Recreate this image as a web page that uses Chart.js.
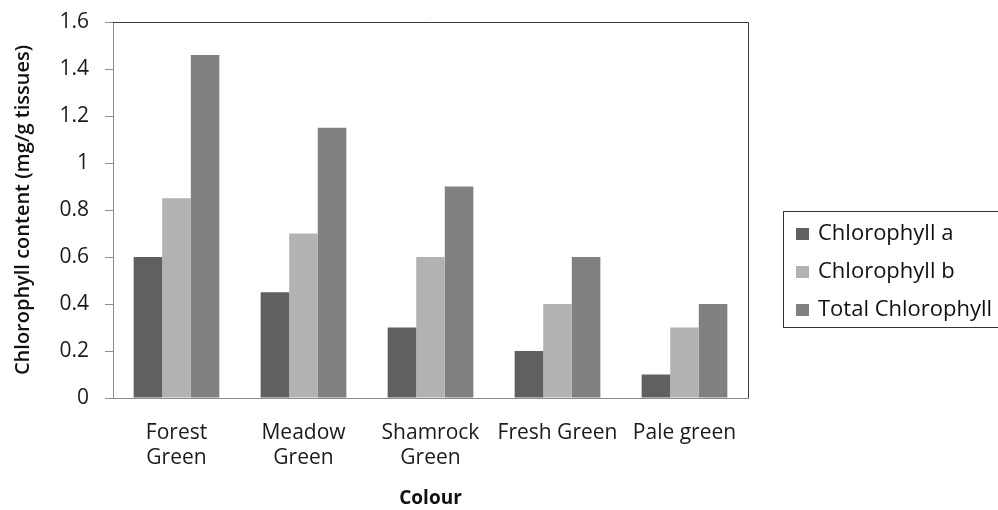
<!DOCTYPE html>
<html>
<head>
<meta charset="utf-8">
<script src="https://cdn.jsdelivr.net/npm/chart.js@4.4.1/dist/chart.umd.min.js"></script>
<style>
  html, body { margin: 0; padding: 0; background: #fff; }
  #wrap { position: relative; width: 998px; height: 510px; overflow: hidden; }
  #chart { position: absolute; left: 0; top: 0; }
  #legend {
    position: absolute; left: 783px; top: 211px; width: 230px; height: 117px;
    border: 1px solid #333; box-sizing: border-box; font-family: "Open Sans", sans-serif;
    font-size: 22px; color: #111;
  }
  #legend .item { position: absolute; left: 12px; height: 26px; line-height: 26px; white-space: nowrap; }
  #legend .sw { display: inline-block; width: 13px; height: 12px; margin-right: 9px; vertical-align: 0px; }
</style>
</head>
<body>
<div id="wrap">
  <canvas id="chart" width="998" height="510"></canvas>
  <div id="legend"></div>
</div>
<script>
// Chlorophyll content per leaf colour
const categories = [["Forest", "Green"], ["Meadow", "Green"], ["Shamrock", "Green"], "Fresh Green", "Pale green"];
const seriesNames = ["Chlorophyll a", "Chlorophyll b", "Total Chlorophyll"];
const chlorophyllA = [0.6, 0.45, 0.3, 0.2, 0.1];
const chlorophyllB = [0.85, 0.7, 0.6, 0.4, 0.3];
const totalChlorophyll = [1.46, 1.15, 0.9, 0.6, 0.4];
const yTicks = [0, 0.2, 0.4, 0.6, 0.8, 1, 1.2, 1.4, 1.6];

const colors = ["#606060", "#b2b2b2", "#808080"];
const fontFamily = "'Open Sans', sans-serif";

// Frame along the top and right of the plot area
const frame = {
  id: "frame",
  afterDraw(chart) {
    const { ctx, chartArea: a } = chart;
    ctx.save();
    ctx.strokeStyle = "#3a3a3a";
    ctx.lineWidth = 1;
    ctx.beginPath();
    ctx.moveTo(a.left, a.top + 0.5);
    ctx.lineTo(a.right + 0.5, a.top + 0.5);
    ctx.lineTo(a.right + 0.5, a.bottom);
    ctx.stroke();
    ctx.restore();
  }
};

const chart = new Chart(document.getElementById("chart"), {
  type: "bar",
  data: {
    labels: categories,
    datasets: [
      { label: seriesNames[0], data: chlorophyllA, backgroundColor: colors[0] },
      { label: seriesNames[1], data: chlorophyllB, backgroundColor: colors[1] },
      { label: seriesNames[2], data: totalChlorophyll, backgroundColor: colors[2] }
    ]
  },
  options: {
    responsive: false,
    animation: false,
    layout: { padding: { top: 22, right: 250, left: 0, bottom: 0 } },
    datasets: { bar: { categoryPercentage: 0.675, barPercentage: 1.0 } },
    plugins: { legend: { display: false }, tooltip: { enabled: false } },
    scales: {
      x: {
        grid: { display: false },
        border: { display: true, color: "#8c8c8c", width: 1 },
        ticks: { color: "#1a1a1a", font: { family: fontFamily, size: 21, lineHeight: 1.2 }, padding: 14, maxRotation: 0, autoSkip: false },
        title: { display: true, text: "Colour", color: "#111", font: { family: fontFamily, size: 19, weight: "bold" }, padding: { top: 0, bottom: 0 } },
        afterFit(scale) { scale.height = 112; scale.paddingLeft = 0; scale.paddingRight = 0; }
      },
      y: {
        min: 0, max: 1.6,
        afterBuildTicks(scale) { scale.ticks = yTicks.map(v => ({ value: v })); },
        grid: { drawOnChartArea: false, tickLength: 8, color: "#8c8c8c" },
        border: { display: true, color: "#8c8c8c", width: 1 },
        ticks: { color: "#1a1a1a", font: { family: fontFamily, size: 21 }, padding: 16, callback: v => String(v) },
        title: { display: true, text: "Chlorophyll content (mg/g tissues)", color: "#111", font: { family: fontFamily, size: 20, weight: "600" }, padding: { top: 11, bottom: 0 } },
        afterFit(scale) { scale.width = 113; scale.paddingTop = 0; scale.paddingBottom = 0; }
      }
    }
  },
  plugins: [frame]
});

// Legend built from the dataset names and colours
const legend = document.getElementById("legend");
seriesNames.forEach((name, i) => {
  const row = document.createElement("div");
  row.className = "item";
  row.style.top = (6 + i * 38) + "px";
  const sw = document.createElement("span");
  sw.className = "sw";
  sw.style.background = colors[i];
  row.appendChild(sw);
  row.appendChild(document.createTextNode(name));
  legend.appendChild(row);
});
</script>
</body>
</html>
